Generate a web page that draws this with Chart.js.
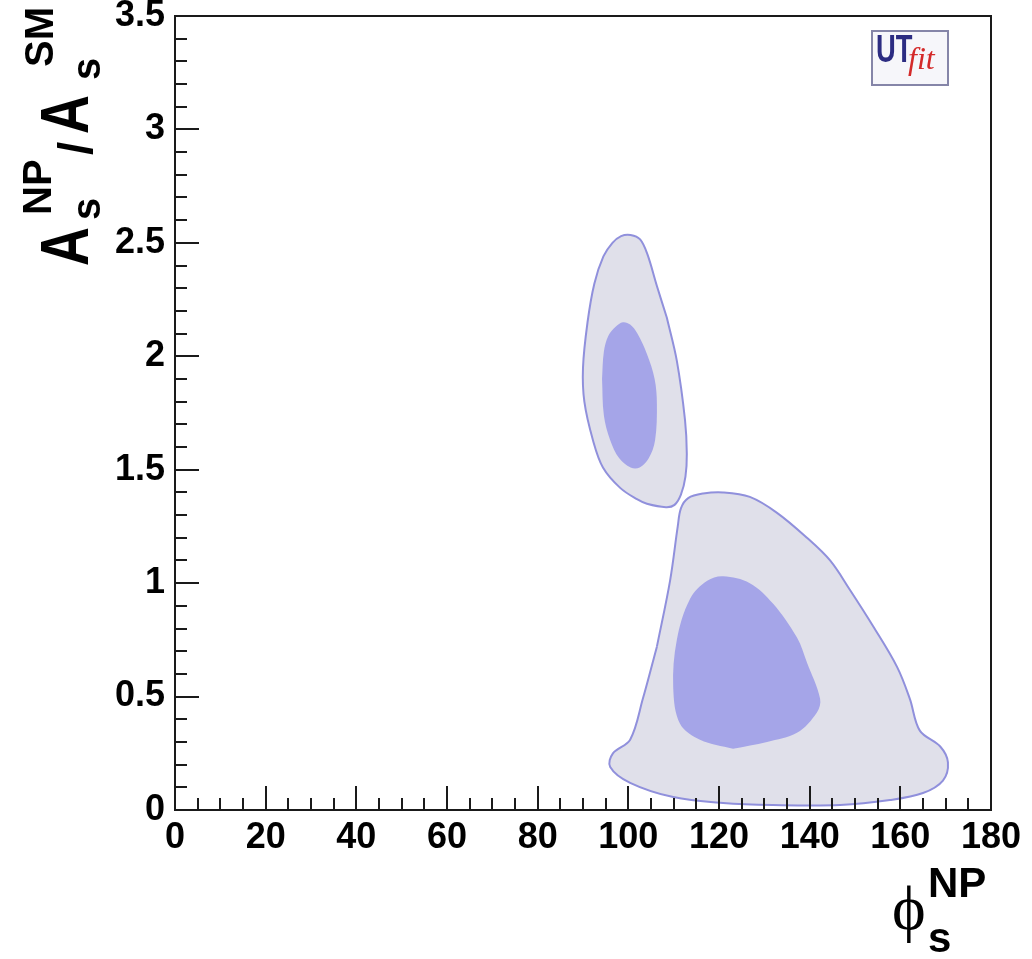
<!DOCTYPE html>
<html>
<head>
<meta charset="utf-8">
<script src="https://cdn.jsdelivr.net/npm/chart.js@4.4.1/dist/chart.umd.min.js"></script>
<style>
  html, body { margin: 0; padding: 0; background: #fff; }
  canvas { display: block; }
</style>
</head>
<body>
<canvas id="contourChart" width="1032" height="959"></canvas>
<script>
// contour regions (phi_s^NP in degrees, A_s^NP/A_s^SM)
const upperOuterX = [108.5, 110.7, 112.5, 112.9, 112.6, 111.6, 110.2, 108.3, 104.1, 101.9, 98.2, 94.4, 92.2, 90.3, 90.0, 91.0, 92.5, 94.5, 96.5, 98.4, 100.5, 102.6, 104.2, 106.3];
const upperOuterY = [2.17, 1.98, 1.72, 1.57, 1.47, 1.39, 1.345, 1.335, 1.35, 1.37, 1.42, 1.51, 1.63, 1.80, 1.95, 2.15, 2.32, 2.44, 2.50, 2.53, 2.535, 2.515, 2.45, 2.31];

const upperInnerX = [94.2, 94.6, 95.6, 97.2, 98.8, 100.4, 102.0, 104.1, 105.8, 106.3, 105.9, 104.5, 102.5, 100.5, 98.0, 96.0, 94.6];
const upperInnerY = [1.90, 2.02, 2.09, 2.13, 2.15, 2.14, 2.10, 2.01, 1.90, 1.79, 1.63, 1.55, 1.51, 1.51, 1.55, 1.63, 1.74];

const lowerOuterX = [106.3, 109.2, 110.9, 111.6, 113.2, 116.5, 120.9, 126.8, 132.8, 139.4, 144.5, 148.9, 154.0, 159.3, 162.1, 164.3, 168.8, 170.5, 169.4, 165.0, 157.7, 146.7, 131.9, 120.9, 109.9, 100.4, 96.0, 96.6, 100.4, 103.2];
const lowerOuterY = [0.72, 1.01, 1.25, 1.33, 1.375, 1.395, 1.40, 1.38, 1.31, 1.20, 1.10, 0.97, 0.81, 0.63, 0.49, 0.35, 0.28, 0.21, 0.13, 0.075, 0.044, 0.022, 0.022, 0.031, 0.057, 0.12, 0.19, 0.25, 0.31, 0.49];

const lowerInnerX = [123.1, 115.8, 111.4, 109.9, 110.7, 113.6, 117.4, 120.9, 126.8, 131.9, 137.2, 139.4, 142.3, 141.6, 137.2, 130.6];
const lowerInnerY = [0.27, 0.31, 0.38, 0.54, 0.75, 0.93, 1.01, 1.03, 1.00, 0.91, 0.76, 0.65, 0.49, 0.43, 0.34, 0.30];

const xTickLabels = ["0", "20", "40", "60", "80", "100", "120", "140", "160", "180"];
const yTickLabels = ["0", "0.5", "1", "1.5", "2", "2.5", "3", "3.5"];

const outerFill = "#e0e0ea";
const outerLine = "#9090dc";
const innerFill = "#a5a5e8";
const tickFont = { family: '"Liberation Sans", Arial, sans-serif', size: 36, weight: "bold" };

// closed polygon from x/y lists
function contour(xs, ys) {
    const pts = xs.map((x, i) => ({ x: x, y: ys[i] }));
    pts.push({ x: xs[0], y: ys[0] });
    return pts;
}

function region(label, xs, ys, inner) {
    return {
        label: label,
        data: contour(xs, ys),
        showLine: true,
        fill: "shape",
        backgroundColor: inner ? innerFill : outerFill,
        borderColor: inner ? innerFill : outerLine,
        borderWidth: inner ? 0 : 2,
        pointRadius: 0,
        tension: 0.35,
        order: inner ? 1 : 2
    };
}

// ROOT style frame with inward tick marks
const rootFrame = {
    id: "rootFrame",
    afterDatasetsDraw(chart) {
        const { ctx, chartArea: a, scales: { x, y } } = chart;
        ctx.save();
        ctx.strokeStyle = "#1a1a1a";
        ctx.lineWidth = 2;
        ctx.strokeRect(a.left, a.top, a.right - a.left, a.bottom - a.top);
        ctx.beginPath();
        for (let i = 0; i <= 36; i++) {
            const px = Math.round(x.getPixelForValue(i * 5));
            const len = i % 4 === 0 ? 24 : 12;
            ctx.moveTo(px, a.bottom);
            ctx.lineTo(px, a.bottom - len);
        }
        for (let i = 0; i <= 35; i++) {
            const py = Math.round(y.getPixelForValue(i / 10));
            const len = i % 5 === 0 ? 24 : 12;
            ctx.moveTo(a.left, py);
            ctx.lineTo(a.left + len, py);
        }
        ctx.stroke();
        ctx.restore();
    }
};

// big "A" of the y title, rotated and stretched like the original
function bigA(ctx, x, y) {
    ctx.save();
    ctx.translate(x, y);
    ctx.rotate(-Math.PI / 2);
    ctx.scale(0.9, 1.15);
    ctx.font = 'bold 60px "Liberation Sans", Arial, sans-serif';
    ctx.fillText("A", 0, 0);
    ctx.restore();
}

// axis titles and the UTfit logo
const titles = {
    id: "titles",
    afterDraw(chart) {
        const ctx = chart.ctx;
        const small = 'bold 40px "Liberation Sans", Arial, sans-serif';
        ctx.save();
        ctx.fillStyle = "#000";
        ctx.textBaseline = "alphabetic";
        ctx.textAlign = "left";

        // y title: A_s^NP / A_s^SM
        bigA(ctx, 88, 266);
        bigA(ctx, 88, 134);
        ctx.save();
        ctx.translate(88, 265);
        ctx.rotate(-Math.PI / 2);
        ctx.font = small;
        ctx.fillText("s", 45, 12);
        ctx.fillText("NP", 50, -37);
        ctx.fillText("s", 185, 12);
        ctx.fillText("SM", 198, -35);
        ctx.font = 'bold 48px "Liberation Sans", Arial, sans-serif';
        ctx.fillText("/", 110, 4);
        ctx.restore();

        // x title: phi_s^NP
        ctx.font = '64px "Liberation Serif", "DejaVu Serif", serif';
        ctx.fillText("ϕ", 892, 929);
        ctx.font = 'bold 42px "Liberation Sans", Arial, sans-serif';
        ctx.fillText("NP", 928, 897);
        ctx.fillText("s", 928, 952);

        // logo
        ctx.fillStyle = "#f6f6fa";
        ctx.fillRect(872, 31, 76, 54);
        ctx.strokeStyle = "#8585a8";
        ctx.lineWidth = 2;
        ctx.strokeRect(872, 31, 76, 54);
        ctx.save();
        ctx.translate(876, 62);
        ctx.scale(0.72, 1);
        ctx.fillStyle = "#2c2c82";
        ctx.font = 'bold 38px "Liberation Sans", Arial, sans-serif';
        ctx.fillText("UT", 0, 0);
        ctx.restore();
        ctx.fillStyle = "#d42a2a";
        ctx.font = 'italic 32px "Liberation Serif", "Times New Roman", serif';
        ctx.fillText("fit", 908, 69);
        ctx.restore();
    }
};

new Chart(document.getElementById("contourChart"), {
    type: "scatter",
    data: {
        datasets: [
            region("68% upper", upperInnerX, upperInnerY, true),
            region("68% lower", lowerInnerX, lowerInnerY, true),
            region("95% upper", upperOuterX, upperOuterY, false),
            region("95% lower", lowerOuterX, lowerOuterY, false)
        ]
    },
    options: {
        responsive: false,
        animation: false,
        layout: { padding: { top: 16, right: 41, left: 0, bottom: 0 } },
        plugins: {
            legend: { display: false },
            tooltip: { enabled: false }
        },
        scales: {
            x: {
                type: "linear",
                min: 0,
                max: 180,
                grid: { display: false, drawTicks: false },
                border: { display: false },
                ticks: {
                    stepSize: 20,
                    padding: 6,
                    color: "#000",
                    font: tickFont,
                    maxRotation: 0,
                    autoSkip: false,
                    callback: (v, i) => xTickLabels[i]
                },
                afterFit(s) {
                    s.height = 149;
                    s.paddingLeft = 0;
                    s.paddingRight = 0;
                }
            },
            y: {
                type: "linear",
                min: 0,
                max: 3.5,
                grid: { display: false, drawTicks: false },
                border: { display: false },
                ticks: {
                    stepSize: 0.5,
                    padding: 10,
                    color: "#000",
                    font: tickFont,
                    autoSkip: false,
                    callback: (v, i) => yTickLabels[i]
                },
                afterFit(s) {
                    s.width = 175;
                    s.paddingTop = 0;
                    s.paddingBottom = 0;
                }
            }
        }
    },
    plugins: [rootFrame, titles]
});
</script>
</body>
</html>
